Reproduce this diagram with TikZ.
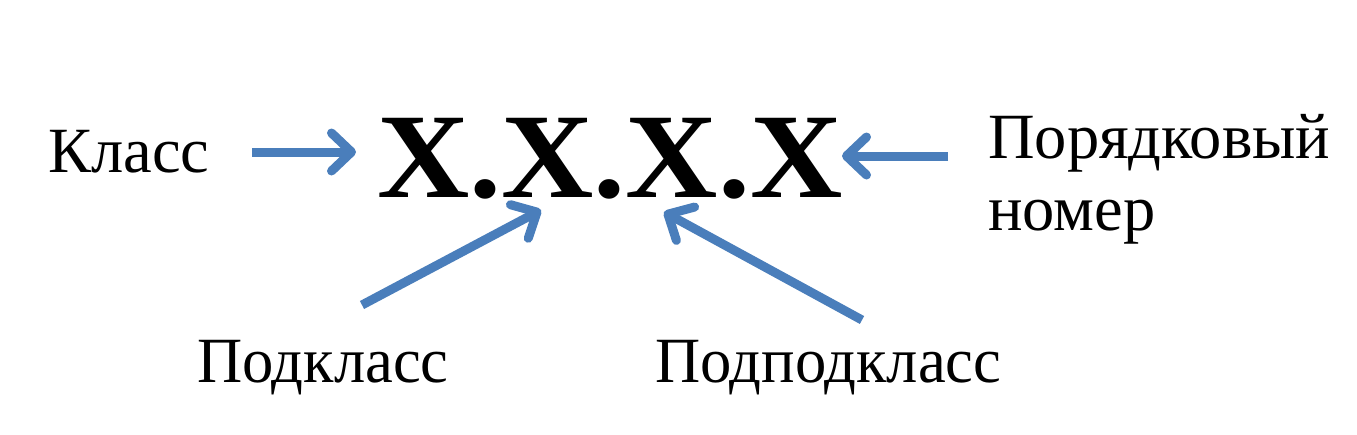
\documentclass[tikz,border=0pt]{standalone}
\usepackage{fontspec}
\setmainfont{Liberation Serif}
\usetikzlibrary{arrows.meta}
\definecolor{arrblue}{HTML}{4A7EBB}
\tikzset{
  lbl/.style={anchor=base west, inner sep=0pt, font=\fontsize{64.5}{72}\selectfont},
  code/.style={anchor=base west, inner sep=0pt, font=\fontsize{121}{130}\selectfont\bfseries},
  blarrow/.style={draw=arrblue, line width=9pt, -{Straight Barb[length=20pt,width=38pt,round]}},
}
\begin{document}
\begin{tikzpicture}[x=1pt,y=-1pt]
\useasboundingbox (0,0) rectangle (1357,434);
\node[lbl] (cls) at (48,172) {Класс};
\node[code] (xx) at (377,197) {\scalebox{1.057}[1]{X.X.X.X}};
\node[lbl] (ord) at (988,158) {Порядковый};
\node[lbl] (num) at (988,230) {номер};
\node[lbl] (sub) at (197,382) {\scalebox{0.97}[1]{Подкласс}};
\node[lbl] (subsub) at (655,382) {\scalebox{0.97}[1]{Подподкласс}};
\coordinate (a1s) at (252,152);
\coordinate (a1e) at (356,152);
\coordinate (a2s) at (948,156);
\coordinate (a2e) at (842,156);
\coordinate (a3s) at (362,305);
\coordinate (a3e) at (541,210);
\coordinate (a4s) at (862,320);
\coordinate (a4e) at (664,212);
\draw[blarrow] (a1s) -- (a1e);
\draw[blarrow] (a2s) -- (a2e);
\draw[blarrow] (a3s) -- (a3e);
\draw[blarrow] (a4s) -- (a4e);
\end{tikzpicture}
\end{document}
